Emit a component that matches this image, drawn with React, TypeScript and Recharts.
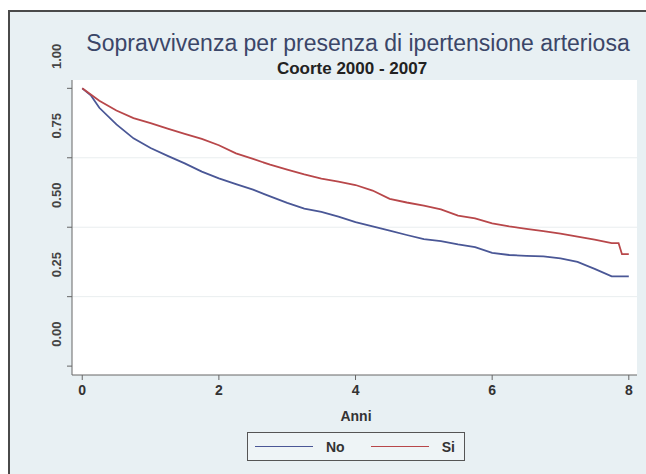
import { LineChart, Line, XAxis, YAxis, CartesianGrid } from "recharts";

// Kaplan-Meier survival (years, survival)
const anni = [
  0, 0.125, 0.25, 0.5, 0.75, 1, 1.25, 1.5, 1.75, 2, 2.25, 2.5, 2.75, 3, 3.25, 3.5, 3.75,
  4, 4.25, 4.5, 4.75, 5, 5.25, 5.5, 5.75, 6, 6.25, 6.5, 6.75, 7, 7.25, 7.5, 7.75, 7.85, 7.9, 8,
];
const no = [
  1.0, 0.975, 0.93, 0.87, 0.82, 0.785, 0.757, 0.73, 0.7, 0.676, 0.655, 0.635, 0.611, 0.588, 0.567,
  0.555, 0.538, 0.518, 0.503, 0.488, 0.472, 0.457, 0.45, 0.438, 0.428, 0.408, 0.4, 0.397, 0.395,
  0.388, 0.375, 0.35, 0.323, 0.323, 0.323, 0.323,
];
const si = [
  1.0, 0.978, 0.955, 0.92, 0.893, 0.875, 0.855, 0.836, 0.818, 0.795, 0.766, 0.746, 0.725, 0.707,
  0.69, 0.675, 0.664, 0.652, 0.632, 0.602, 0.589, 0.578, 0.564, 0.542, 0.532, 0.514, 0.503, 0.494,
  0.486, 0.477, 0.466, 0.455, 0.443, 0.443, 0.403, 0.403,
];
const xTicks = [0, 2, 4, 6, 8];
const yTicks = [0, 0.25, 0.5, 0.75, 1];
const yLabels = ["0.00", "0.25", "0.50", "0.75", "1.00"];
const series = [
  { key: "No", color: "#4a5796" },
  { key: "Si", color: "#b8474a" },
];

const data = anni.map((t, i) => ({ t, No: no[i], Si: si[i] }));

const BG = "#e8f0f3";
const FONT = "'Liberation Sans', Arial, sans-serif";

function YTick(props: any) {
  const { x, y, payload } = props;
  const cx = x - 8;
  const cy = y - 32;
  const idx = yTicks.indexOf(payload.value);
  return (
    <text
      x={cx}
      y={cy}
      transform={`rotate(-90 ${cx} ${cy})`}
      textAnchor="middle"
      dominantBaseline="central"
      fontSize={13}
      fontWeight="bold"
      fill="#444"
      fontFamily={FONT}
    >
      {yLabels[idx]}
    </text>
  );
}

function LegendBox() {
  return (
    <div
      style={{
        position: "absolute",
        left: 237,
        top: 420,
        width: 218,
        height: 29,
        border: "1.5px solid #555",
        background: "#eef4f6",
        display: "flex",
        alignItems: "center",
        justifyContent: "space-between",
        padding: "0 9px 0 7px",
        boxSizing: "border-box",
        fontFamily: FONT,
      }}
    >
      {series.map((s) => (
        <span key={s.key} style={{ display: "inline-flex", alignItems: "center" }}>
          <span style={{ display: "inline-block", width: 58, height: 0, borderTop: `1.5px solid ${s.color}` }} />
          <span style={{ marginLeft: 13, fontSize: 14, fontWeight: "bold", color: "#333" }}>{s.key}</span>
        </span>
      ))}
    </div>
  );
}

const centred = (top: number, centre: number, width: number): React.CSSProperties => ({
  position: "absolute",
  top,
  left: centre - width / 2,
  width,
  textAlign: "center",
  whiteSpace: "nowrap",
});

export default function App() {
  return (
    <div
      style={{
        position: "fixed",
        left: 8,
        top: 10,
        width: 636,
        height: 464,
        background: BG,
        borderTop: "2px solid #4a4a4a",
        borderLeft: "2px solid #4a4a4a",
        fontFamily: FONT,
      }}
    >
      <div style={{ ...centred(18, 348, 590), fontSize: 23, color: "#3b4668" }}>
        Sopravvivenza per presenza di ipertensione arteriosa
      </div>
      <div style={{ ...centred(47, 342, 240), fontSize: 17, fontWeight: "bold", color: "#222" }}>
        Coorte 2000 - 2007
      </div>
      <div style={{ ...centred(396, 346, 80), fontSize: 14, fontWeight: "bold", color: "#333" }}>
        Anni
      </div>
      <LineChart
        width={636}
        height={462}
        data={data}
        margin={{ top: 68, right: 9, bottom: 69, left: 22 }}
      >
        <CartesianGrid
          vertical={false}
          horizontalValues={[0.25, 0.5, 0.75]}
          stroke="#e9eeef"
          fill="#ffffff"
        />
        <XAxis
          dataKey="t"
          type="number"
          domain={[-0.15, 8.12]}
          ticks={xTicks}
          allowDataOverflow
          height={30}
          tickSize={5}
          tickMargin={5}
          stroke="#666"
          tick={{ fontSize: 14, fontWeight: "bold", fill: "#333", fontFamily: FONT }}
        />
        <YAxis
          type="number"
          domain={[-0.032, 1.03]}
          ticks={yTicks}
          allowDataOverflow
          width={40}
          tickSize={5}
          stroke="#666"
          tick={<YTick />}
        />
        {series.map((s) => (
          <Line
            key={s.key}
            dataKey={s.key}
            stroke={s.color}
            strokeWidth={1.8}
            dot={false}
            isAnimationActive={false}
          />
        ))}
      </LineChart>
      <LegendBox />
    </div>
  );
}
